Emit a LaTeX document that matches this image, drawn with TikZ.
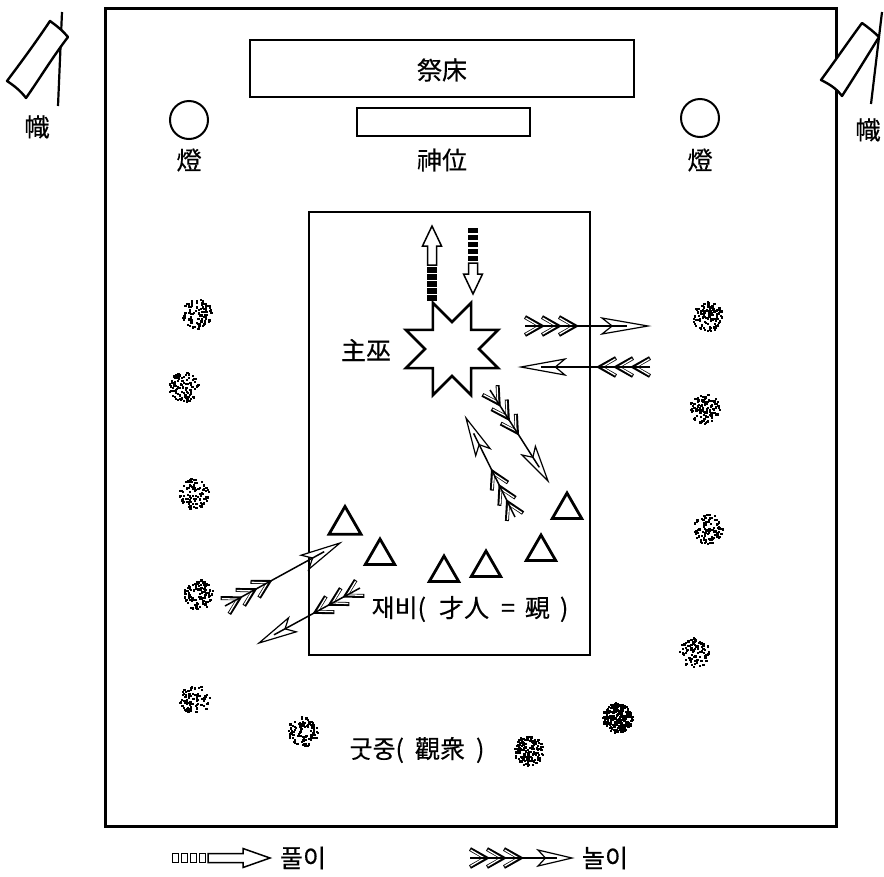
\documentclass[tikz,border=0pt]{standalone}
\usepackage{fontspec}
\newfontfamily\cjk[FakeBold=0.4]{Noto Sans CJK KR}
\usetikzlibrary{shapes.geometric}

% block arrow (puli): tail x,y; tip x,y; stripe count; stripe period; stripe fill; head length
\newcommand\puliarrow[8]{%
  \pgfmathsetmacro\bang{atan2(-((#4)-(#2)),(#3)-(#1))}%
  \pgfmathsetmacro\blen{veclen((#3)-(#1),(#4)-(#2))}%
  \pgfmathsetmacro\bstr{#5*#6}%
  \begin{scope}[shift={(#1,#2)},rotate=\bang]
    \foreach \i in {1,...,#5}{%
      \filldraw[fill=#7,line width=.9] ({(\i-1)*#6},-4.5) rectangle ({\i*#6-2.4},4.5);}
    \filldraw[fill=white,line width=1.5] (\bstr,-4.5) -- ({\blen-#8},-4.5) -- ({\blen-#8},-9.5)
      -- (\blen,0) -- ({\blen-#8},9.5) -- ({\blen-#8},4.5) -- (\bstr,4.5) -- cycle;
  \end{scope}}

% fletched arrow (noli): tail x,y; tip x,y; head length
\newcommand\noliarrow[5]{%
  \pgfmathsetmacro\fang{atan2(-((#4)-(#2)),(#3)-(#1))}%
  \pgfmathsetmacro\flen{veclen((#3)-(#1),(#4)-(#2))}%
  \begin{scope}[shift={(#1,#2)},rotate=\fang]
    \foreach \s in {0,17,34}{%
      \draw[line width=4] (\s,9) -- (\s+16,0) -- (\s,-9);
      \draw[line width=1.3,white] (\s+.7,8) -- (\s+14.3,0) -- (\s+.7,-8);}
    \draw[line width=1.5] (0,0) -- ({\flen-0.8*#5},0);
    \filldraw[fill=white,line width=1.2] (\flen,0) -- ({\flen-#5},8) -- ({\flen-0.78*#5},0)
      -- ({\flen-#5},-8) -- cycle;
    \draw[line width=1.5] ({\flen-0.8*#5},0) -- ({\flen-0.45*#5},0);
  \end{scope}}

% stippled spot: centre x,y; number of specks
\newcommand\stipple[3]{%
  \foreach \k in {1,...,#3}{%
    \pgfmathsetmacro\rr{15*sqrt(rnd)}%
    \pgfmathsetmacro\aa{360*rnd}%
    \fill ({#1+\rr*cos(\aa)},{#2+\rr*sin(\aa)}) rectangle ++(2.2,2.2);}}

\begin{document}
\begin{tikzpicture}[x=1pt,y=-1pt,line join=miter,
  lbl/.style={font=\cjk\fontsize{25}{28}\selectfont,inner sep=0pt},
  outerframe/.style={draw,line width=3},
  altarbox/.style={draw,line width=2.4},
  lamp/.style={circle,draw,line width=2,minimum size=38,inner sep=0pt},
  jaebi/.style={regular polygon,regular polygon sides=3,draw,line width=2.8,minimum size=34,inner sep=0pt},
  pole/.style={line width=2.2},
  banner/.style={draw,fill=white,line width=2.4,line join=round},
]
\fill[white] (0,0) rectangle (884,876);
\pgfmathsetseed{4711}

% hall and inner ground
\draw[outerframe] (105,8) rectangle (836,826);
\draw[line width=2] (309,212) rectangle (590,655);

% altar and spirit tablet
\draw[altarbox] (250,40) rectangle (634,97);
\node[lbl] (altar) at (442,70) {祭床};
\draw[altarbox] (357,108) rectangle (530,136);
\node[lbl] (tablet) at (442,160) {神位};

% lamps
\node[lamp] (lampL) at (189,120) {};
\node[lbl] (lampLtxt) at (189,160) {燈};
\node[lamp] (lampR) at (700,118) {};
\node[lbl] (lampRtxt) at (700,160) {燈};

% banners on poles
\draw[pole] (62,12) -- (58,106);
\path[banner] (50,21) .. controls (57,26) and (63,31) .. (68,37) .. controls (52,58) and (40,78) .. (26,98)
  .. controls (20,90) and (13,85) .. (7,81) .. controls (22,61) and (36,42) .. cycle;
\node[lbl] (flagL) at (37,127) {幟};
\draw[pole] (882,12) -- (871,104);
\path[banner] (862,23) .. controls (869,28) and (874,32) .. (879,37) .. controls (866,58) and (855,76) .. (842,96)
  .. controls (836,88) and (829,84) .. (821,80) .. controls (835,61) and (848,42) .. cycle;
\node[lbl] (flagR) at (868,130) {幟};

% head shaman
\node[star,star points=8,star point ratio=1.85,minimum size=100,inner sep=0pt,
  draw,line width=2.6,shape border rotate=22.5] (shaman) at (452,349) {};
\node[lbl] (shamantxt) at (366,350) {主巫};

% musicians
\node[jaebi,minimum size=37] (j1) at (345,525) {};
\node[jaebi] (j2) at (380,556) {};
\node[jaebi] (j3) at (444,573) {};
\node[jaebi] (j4) at (486,568) {};
\node[jaebi] (j5) at (541,552) {};
\node[jaebi] (j6) at (567,510) {};
\node[lbl] (jaebitxt) at (470,609) {재비(\hspace{13pt}才人\hspace{12pt}=\hspace{10pt}覡\hspace{10pt})};

% audience
\node[lbl] (crowdtxt) at (417,750) {굿중(\hspace{11pt}觀衆\hspace{11pt})};
\stipple{197}{313}{95}
\stipple{183}{386}{110}
\stipple{193}{493}{95}
\stipple{198}{594}{110}
\stipple{194}{699}{80}
\stipple{302}{731}{95}
\stipple{707}{316}{120}
\stipple{704}{408}{110}
\stipple{707}{528}{95}
\stipple{694}{652}{95}
\stipple{617}{717}{230}
\stipple{528}{750}{170}

% puli movements
\puliarrow{432}{300}{432}{226}{5}{7}{black}{20}
\puliarrow{473}{228}{473}{294}{5}{7}{black}{20}

% noli movements
\noliarrow{525}{326}{648}{326}{46}
\noliarrow{650}{367}{521}{367}{44}
\noliarrow{490}{390}{548}{481}{36}
\noliarrow{515}{517}{466}{418}{38}
\noliarrow{225}{606}{340}{543}{40}
\noliarrow{360}{588}{259}{643}{38}

% legend
\puliarrow{172}{858}{270}{858}{4}{9}{white}{27}
\node[lbl] (pulitxt) at (303,858) {풀이};
\noliarrow{470}{858}{572}{858}{34}
\node[lbl] (nolitxt) at (605,858) {놀이};
\end{tikzpicture}
\end{document}
